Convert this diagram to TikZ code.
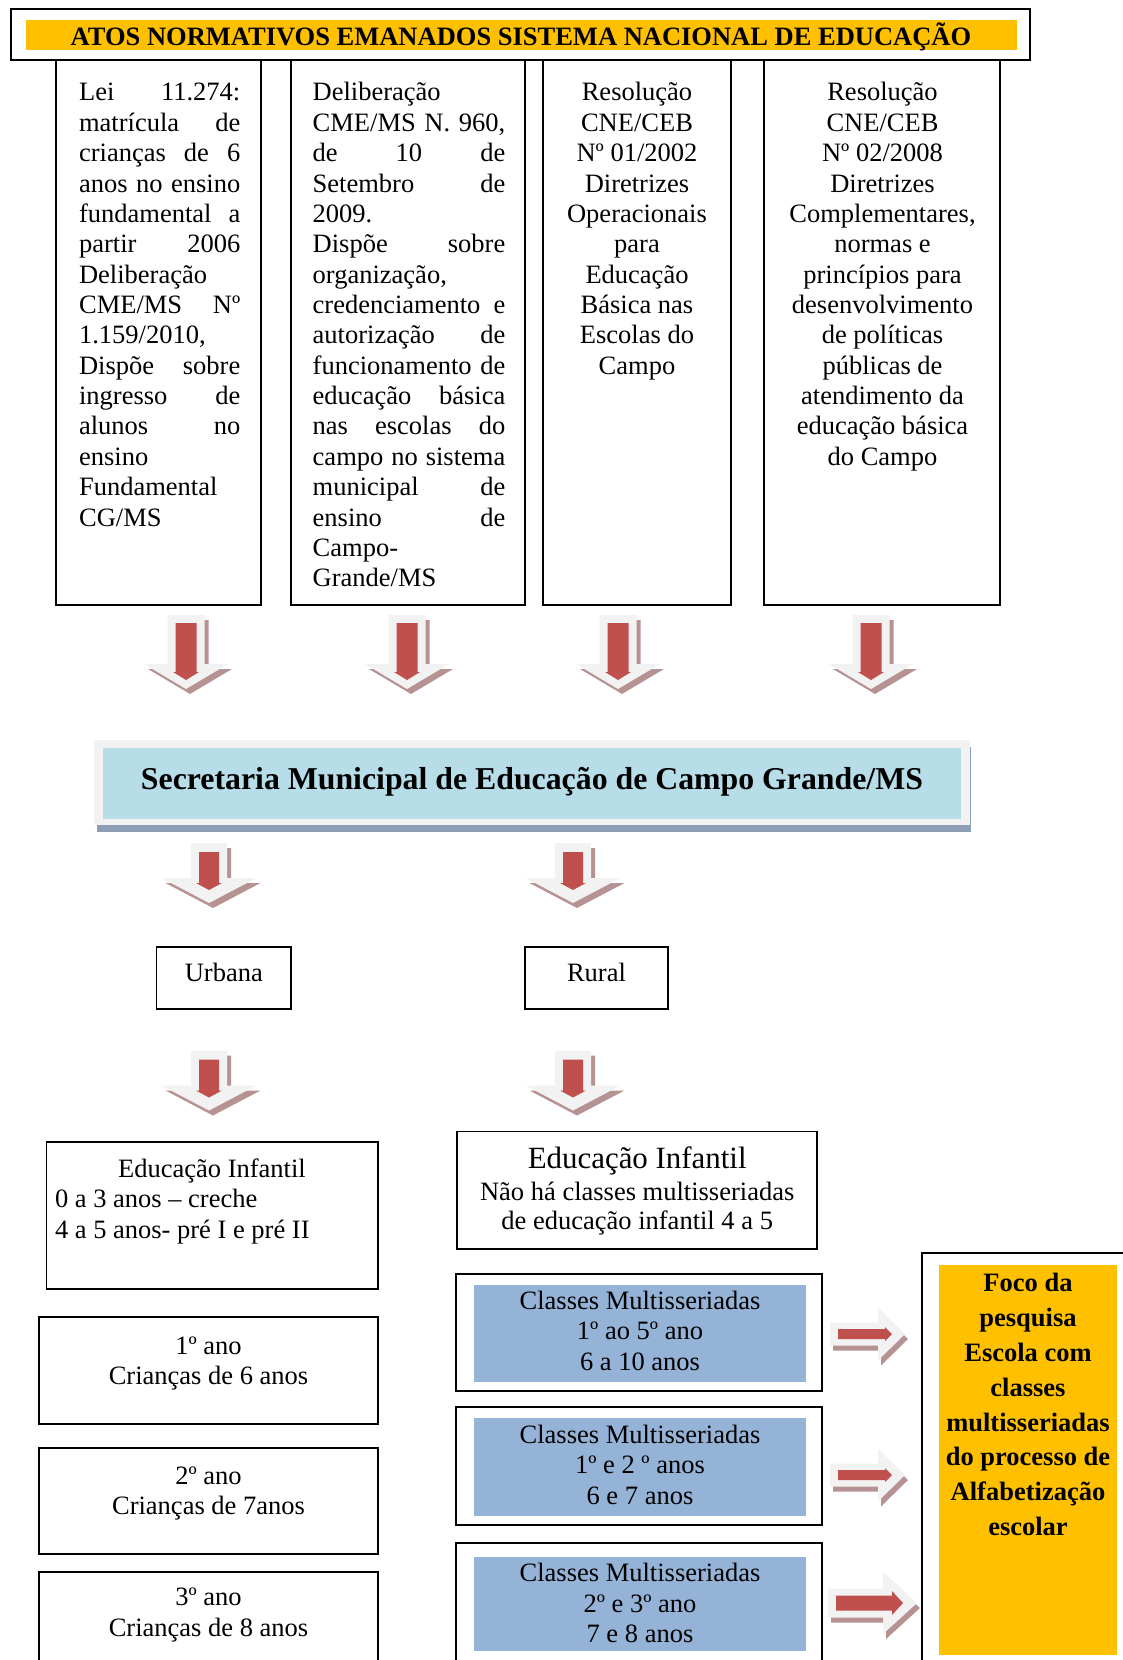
\documentclass[tikz,border=0pt]{standalone}
\usepackage{fontspec}
\setmainfont{Liberation Serif}
\newdimen\pxu \pxu=0.45283pt
\definecolor{orng}{HTML}{FFC000}
\definecolor{ltblue}{HTML}{B7DDE8}
\definecolor{mblue}{HTML}{95B3D7}
\definecolor{redarr}{HTML}{C0504D}
\definecolor{lgray}{HTML}{F2F2F2}
\definecolor{shad}{HTML}{B69292}
\definecolor{secshad}{HTML}{8C9DB5}
\tikzset{
  boxln/.style={draw=black, line width=0.8pt, inner sep=0pt, outer sep=0pt, anchor=north west},
  fillbox/.style={inner sep=0pt, outer sep=0pt, anchor=north west, draw=none},
  txt/.style={inner sep=0pt, outer sep=0pt, font=\fontsize{12}{13.75}\selectfont},
  txtb/.style={inner sep=0pt, outer sep=0pt, font=\fontsize{12}{14}\selectfont},
}
% down arrow, row 1
\newcommand\ArrA[1]{%
\begin{scope}[shift={(#1,615)}]
\fill[shad] (-14.5,5) -- (22.5,5) -- (22.5,54) -- (46,54) -- (4,79) -- (-38,54) -- (-14.5,54) -- cycle;
\fill[lgray] (-18.5,0) -- (18.5,0) -- (18.5,49) -- (42,49) -- (0,74) -- (-42,49) -- (-18.5,49) -- cycle;
\fill[redarr] (-10.5,8) -- (10.5,8) -- (10.5,57) -- (13,57) -- (0,65) -- (-13,57) -- (-10.5,57) -- cycle;
\end{scope}}
% down arrow, rows 2 and 3
\newcommand\ArrB[2]{%
\begin{scope}[shift={(#1,#2)}]
\fill[shad] (-14,5) -- (22,5) -- (22,40) -- (51.5,40) -- (4,65) -- (-43.5,40) -- (-14,40) -- cycle;
\fill[lgray] (-18,0) -- (18,0) -- (18,35) -- (47.5,35) -- (0,60) -- (-47.5,35) -- (-18,35) -- cycle;
\fill[redarr] (-10,9) -- (10,9) -- (10,40) -- (13,40) -- (0,47) -- (-13,40) -- (-10,40) -- cycle;
\end{scope}}
% small right arrow
\newcommand\ArrC[1]{%
\begin{scope}[shift={(830,#1)}]
\fill[shad] (3,-6.5) -- (51,-6.5) -- (51,-21.5) -- (78,5) -- (51,31.5) -- (51,16.5) -- (3,16.5) -- cycle;
\fill[lgray] (0,-11.5) -- (48,-11.5) -- (48,-26.5) -- (75,0) -- (48,26.5) -- (48,11.5) -- (0,11.5) -- cycle;
\fill[redarr] (8,-5) -- (55,-5) -- (55,-7) -- (62,0) -- (55,7) -- (55,5) -- (8,5) -- cycle;
\end{scope}}
% big right arrow
\newcommand\ArrD[1]{%
\begin{scope}[shift={(828,#1)}]
\fill[shad] (3,-9.5) -- (58,-9.5) -- (58,-26) -- (92,5) -- (58,36) -- (58,19.5) -- (3,19.5) -- cycle;
\fill[lgray] (0,-14.5) -- (55,-14.5) -- (55,-31) -- (89,0) -- (55,31) -- (55,14.5) -- (0,14.5) -- cycle;
\fill[redarr] (8,-7.5) -- (64,-7.5) -- (64,-12) -- (75,0) -- (64,12) -- (64,7.5) -- (8,7.5) -- cycle;
\end{scope}}
\begin{document}
\begin{tikzpicture}[x=0.45283pt, y=-0.45283pt]
\useasboundingbox (0,0) rectangle (1123,1660);
\clip (0,0) rectangle (1123,1660);
\fill[white] (0,0) rectangle (1123,1660);

% ---------- title box
\node[boxln, minimum width=1019\pxu, minimum height=51\pxu] (topbox) at (11,9) {};
\node[fillbox, fill=orng, minimum width=991\pxu, minimum height=30\pxu] (titlebar) at (26,20) {};
\node[anchor=base, inner sep=0pt, font=\fontsize{12}{14}\selectfont\bfseries] (title) at (521,45)
  {ATOS NORMATIVOS EMANADOS SISTEMA NACIONAL DE EDUCAÇÃO};

% ---------- four columns
\node[boxln, minimum width=205\pxu, minimum height=545\pxu] (c1) at (56,60) {};
\node[boxln, minimum width=234\pxu, minimum height=545\pxu] (c2) at (291,60) {};
\node[boxln, minimum width=188\pxu, minimum height=545\pxu] (c3) at (543,60) {};
\node[boxln, minimum width=236\pxu, minimum height=545\pxu] (c4) at (764,60) {};

\node[txt, anchor=north, text width=73pt, align=flush left] (t1) at (159.7,79.7) {\strut
Lei\hfill 11.274:\\
matrícula\hfill de\\
crianças\hfill de\hfill 6\\
anos\hfill no\hfill ensino\\
fundamental\hfill a\\
partir\hfill 2006\\
Deliberação\\
CME/MS\hfill Nº\\
1.159/2010,\\
Dispõe\hfill sobre\\
ingresso\hfill de\\
alunos\hfill no\\
ensino\\
Fundamental\\
CG/MS};

\node[txt, anchor=north, text width=87.2pt, align=flush left] (t2) at (409,79.7) {\strut
Deliberação\\
CME/MS\hfill N.\hfill 960,\\
de\hfill 10\hfill de\\
Setembro\hfill de\\
2009.\\
Dispõe\hfill sobre\\
organização,\\
credenciamento\hfill e\\
autorização\hfill de\\
funcionamento\hfill de\\
educação\hfill básica\\
nas\hfill escolas\hfill do\\
campo\hfill no\hfill sistema\\
municipal\hfill de\\
ensino\hfill de\\
Campo-\\
Grande/MS};

\node[txt, anchor=north, text width=80pt, align=flush center] (t3) at (637,79.7) {\strut
Resolução\\CNE/CEB\\Nº 01/2002\\Diretrizes\\Operacionais\\para\\Educação\\Básica nas\\Escolas do\\Campo};

\node[txt, anchor=north, text width=100pt, align=flush center] (t4) at (882.5,79.7) {\strut
Resolução\\CNE/CEB\\Nº 02/2008\\Diretrizes\\Complementares,\\normas e\\princípios para\\desenvolvimento\\de políticas\\públicas de\\atendimento da\\educação básica\\do Campo};

% ---------- row 1 arrows
\ArrA{186}
\ArrA{407}
\ArrA{618}
\ArrA{871}

% ---------- Secretaria
\fill[secshad] (97,747) rectangle (971,832);
\fill[lgray] (94,740) rectangle (970,825);
\node[fillbox, fill=ltblue, minimum width=858\pxu, minimum height=71\pxu] (sec) at (103,748) {};
\node[anchor=base, inner sep=0pt, font=\fontsize{14.4}{16}\selectfont\bfseries] (sectext) at (532,789.5)
  {Secretaria Municipal de Educação de Campo Grande/MS};

% ---------- row 2 arrows
\ArrB{209}{843}
\ArrB{573}{843}

% ---------- Urbana / Rural
\node[boxln, minimum width=134.5\pxu, minimum height=61.5\pxu] (urb) at (156.6,947.3) {};
\node[txtb, anchor=base] (urbt) at (223.8,981.5) {Urbana};
\node[boxln, minimum width=143\pxu, minimum height=61.5\pxu] (rur) at (525,947.3) {};
\node[txtb, anchor=base] (rurt) at (596.5,981.5) {Rural};

% ---------- row 3 arrows
\ArrB{209}{1050.5}
\ArrB{573}{1050.5}

% ---------- left column
\node[boxln, minimum width=331.3\pxu, minimum height=147.2\pxu] (eil) at (46.6,1142) {};
\node[txtb, anchor=base] (eilt) at (212,1177) {Educação Infantil};
\node[txtb, anchor=north west, align=flush left] (eill) at (55,1186.2) {\strut 0 a 3 anos – creche\\4 a 5 anos- pré I e pré II};

\node[boxln, minimum width=338.7\pxu, minimum height=106.9\pxu] (a1) at (39.2,1316.7) {};
\node[txtb, anchor=north, text width=150pt, align=flush center] (a1t) at (208.5,1332.4) {\strut 1º ano\\Crianças de 6 anos};
\node[boxln, minimum width=338.7\pxu, minimum height=105.8\pxu] (a2) at (39.2,1447.9) {};
\node[txtb, anchor=north, text width=150pt, align=flush center] (a2t) at (208.5,1462.4) {\strut 2º ano\\Crianças de 7anos};
\node[boxln, minimum width=338.7\pxu, minimum height=150\pxu] (a3) at (39.2,1571.7) {};
\node[txtb, anchor=north, text width=150pt, align=flush center] (a3t) at (208.5,1584.1) {\strut 3º ano\\Crianças de 8 anos};

% ---------- right column
\node[boxln, minimum width=359.9\pxu, minimum height=117.5\pxu] (eir) at (457.2,1131.5) {};
\node[anchor=base, inner sep=0pt, font=\fontsize{14}{16}\selectfont] (eirt) at (637.2,1168.5) {Educação Infantil};
\node[inner sep=0pt, font=\fontsize{12}{13.2}\selectfont, anchor=north, text width=160pt, align=flush center] (eirl) at (637.2,1179.9)
  {\strut Não há classes multisseriadas\\de educação infantil 4 a 5};

\node[boxln, line width=0.9pt, minimum width=366.2\pxu, minimum height=117\pxu] (m1) at (456.2,1274) {};
\node[fillbox, fill=mblue, minimum width=332\pxu, minimum height=97\pxu] (m1i) at (474,1285) {};
\node[inner sep=0pt, font=\fontsize{12}{13.8}\selectfont, anchor=north, text width=150pt, align=flush center] (m1t) at (640,1287.7)
  {\strut Classes Multisseriadas\\1º ao 5º ano\\6 a 10 anos};

\node[boxln, line width=0.9pt, minimum width=366.2\pxu, minimum height=118.6\pxu] (m2) at (456.2,1406.6) {};
\node[fillbox, fill=mblue, minimum width=332\pxu, minimum height=97.3\pxu] (m2i) at (474,1418.3) {};
\node[inner sep=0pt, font=\fontsize{12}{13.8}\selectfont, anchor=north, text width=150pt, align=flush center] (m2t) at (640,1421.4)
  {\strut Classes Multisseriadas\\1º e 2 º anos\\6 e 7 anos};

\node[boxln, line width=0.9pt, minimum width=366.2\pxu, minimum height=160\pxu] (m3) at (456.2,1543.2) {};
\node[fillbox, fill=mblue, minimum width=332\pxu, minimum height=94\pxu] (m3i) at (474,1557) {};
\node[inner sep=0pt, font=\fontsize{12}{13.8}\selectfont, anchor=north, text width=150pt, align=flush center] (m3t) at (640,1560.2)
  {\strut Classes Multisseriadas\\2º e 3º ano\\7 e 8 anos};

% ---------- right arrows
\ArrC{1334}
\ArrC{1475}
\ArrD{1603}

% ---------- Foco
\node[boxln, line width=0.9pt, minimum width=240\pxu, minimum height=480\pxu] (foco) at (922,1253) {};
\node[fillbox, fill=orng, minimum width=178\pxu, minimum height=390\pxu] (focoi) at (939,1265) {};
\node[inner sep=0pt, font=\fontsize{12}{15.8}\selectfont\bfseries, anchor=north, text width=80pt, align=flush center] (focot) at (1028,1266.6)
  {\strut Foco da\\pesquisa\\Escola com\\classes\\multisseriadas\\do processo de\\Alfabetização\\escolar};
\end{tikzpicture}
\end{document}
